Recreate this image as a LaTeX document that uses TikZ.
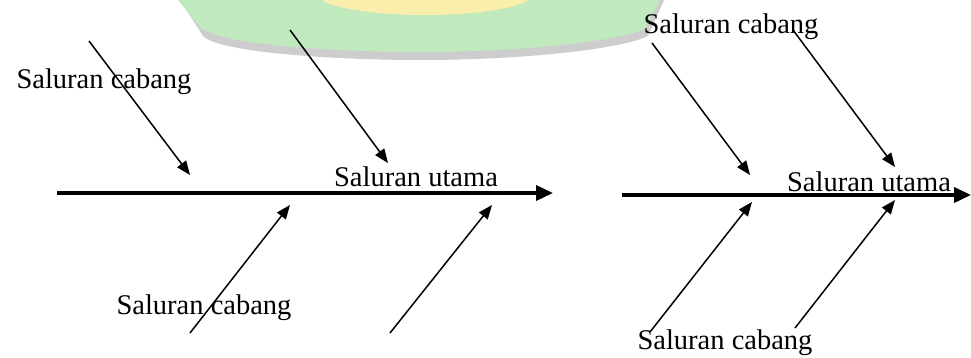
\documentclass[tikz,border=0pt]{standalone}
\usepackage{fontspec}
\setmainfont{Liberation Serif}
\usetikzlibrary{arrows.meta,positioning}
\definecolor{logogreen}{RGB}{193,233,190}
\definecolor{logoyellow}{RGB}{250,238,172}
\definecolor{logoshade}{RGB}{205,205,205}

\begin{document}
\begin{tikzpicture}[x=1pt, y=-1pt, every node/.style={font=\fontsize{28.5}{30}\selectfont, inner sep=0pt}]
\tikzset{mainline/.style={-{Triangle[length=17pt,width=15pt]}, line width=3.6pt}}
\tikzset{branch/.style={-{Triangle[length=14pt,width=11pt]}, line width=1.5pt}}
\useasboundingbox (0,0) rectangle (971,358);
% faint logo at the top
\fill[logoshade] (180,0) -- (203,36) .. controls (218,52) and (330,60) .. (420,60) .. controls (530,60) and (625,48) .. (648,36) -- (664,0) -- cycle;
\fill[logogreen] (178,0) -- (200,27) .. controls (215,44) and (330,52) .. (420,52) .. controls (530,52) and (622,40) .. (645,29) -- (660,0) -- cycle;
\fill[logoyellow] (425,-6) ellipse [x radius=108, y radius=21];

% left fishbone
\coordinate (mainA-start) at (57,193);
\coordinate (mainA-end) at (553,193);
\draw[mainline] (mainA-start) -- (mainA-end);
\node (utamaA) at (416,177) {Saluran utama};
\node (cabangA) at (104,82) {Saluran cabang};
\node (cabangB) at (204,308) {Saluran cabang};
\coordinate (a1) at (89,41);   \coordinate (a1tip) at (190,175);
\coordinate (a2) at (290,30);  \coordinate (a2tip) at (388,163);
\coordinate (b1) at (190,333); \coordinate (b1tip) at (290,205);
\coordinate (b2) at (390,333); \coordinate (b2tip) at (492,205);
\draw[branch] (a1) -- (a1tip);
\draw[branch] (a2) -- (a2tip);
\draw[branch] (b1) -- (b1tip);
\draw[branch] (b2) -- (b2tip);

% right fishbone
\coordinate (mainB-start) at (622,195);
\coordinate (mainB-end) at (971,195);
\draw[mainline] (mainB-start) -- (mainB-end);
\node (utamaB) at (869,182) {Saluran utama};
\node (cabangC) at (731,27) {Saluran cabang};
\node (cabangD) at (725,343) {Saluran cabang};
\coordinate (c1) at (652,43);  \coordinate (c1tip) at (750,175);
\coordinate (c2) at (793,30);  \coordinate (c2tip) at (895,167);
\coordinate (d1) at (650,332); \coordinate (d1tip) at (752,202);
\coordinate (d2) at (795,328); \coordinate (d2tip) at (895,200);
\draw[branch] (c1) -- (c1tip);
\draw[branch] (c2) -- (c2tip);
\draw[branch] (d1) -- (d1tip);
\draw[branch] (d2) -- (d2tip);
\end{tikzpicture}
\end{document}
